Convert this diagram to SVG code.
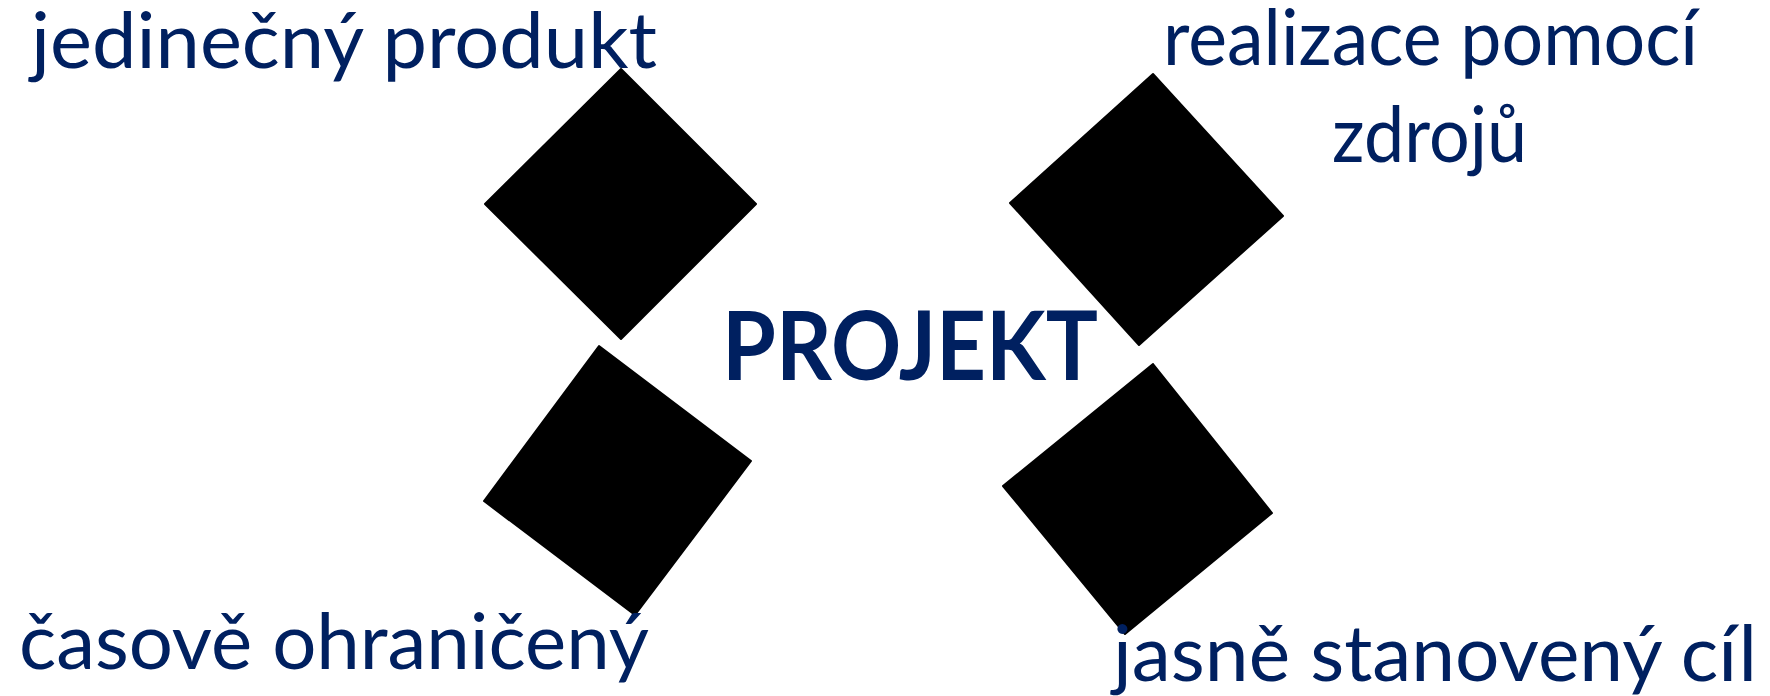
<svg xmlns="http://www.w3.org/2000/svg" width="1770" height="696" viewBox="0 0 1770 696">
<style>
.lbl{font-family:Lato,"Open Sans","Liberation Sans",sans-serif;font-size:78px;fill:#002060}
.title{font-family:Lato,"Open Sans","Liberation Sans",sans-serif;font-size:95px;font-weight:bold;fill:#002060}
.dia{fill:#000;stroke:#000;stroke-width:2;stroke-linejoin:round}
</style>
<rect width="1770" height="696" fill="#fff"/>
<g id="connectors"></g>
<g id="node-tl"><polygon class="dia" points="621,69 756,204 621,339 485,204"/></g>
<g id="node-tr"><polygon class="dia" points="1153,74 1283,216 1139,345 1010,203"/></g>
<g id="node-bl"><polygon class="dia" points="599,346 751,461 635,615 484,501"/></g>
<g id="node-br"><polygon class="dia" points="1153,364 1272,513 1125,634 1003,486"/></g>
<g id="label-tl"><text class="lbl" x="31" y="68" textLength="626" lengthAdjust="spacingAndGlyphs">jedinečný produkt</text></g>
<g id="label-tr"><text class="lbl" x="1163" y="65" textLength="535" lengthAdjust="spacingAndGlyphs">realizace pomocí</text><text class="lbl" x="1332" y="162" textLength="195" lengthAdjust="spacingAndGlyphs">zdrojů</text></g>
<g id="center"><text class="title" x="722" y="380" textLength="376" lengthAdjust="spacingAndGlyphs">PROJEKT</text></g>
<g id="label-bl"><text class="lbl" x="19" y="669" textLength="630" lengthAdjust="spacingAndGlyphs">časově ohraničený</text></g>
<g id="label-br"><text class="lbl" x="1113" y="681" textLength="644" lengthAdjust="spacingAndGlyphs">jasně stanovený cíl</text></g>
</svg>
